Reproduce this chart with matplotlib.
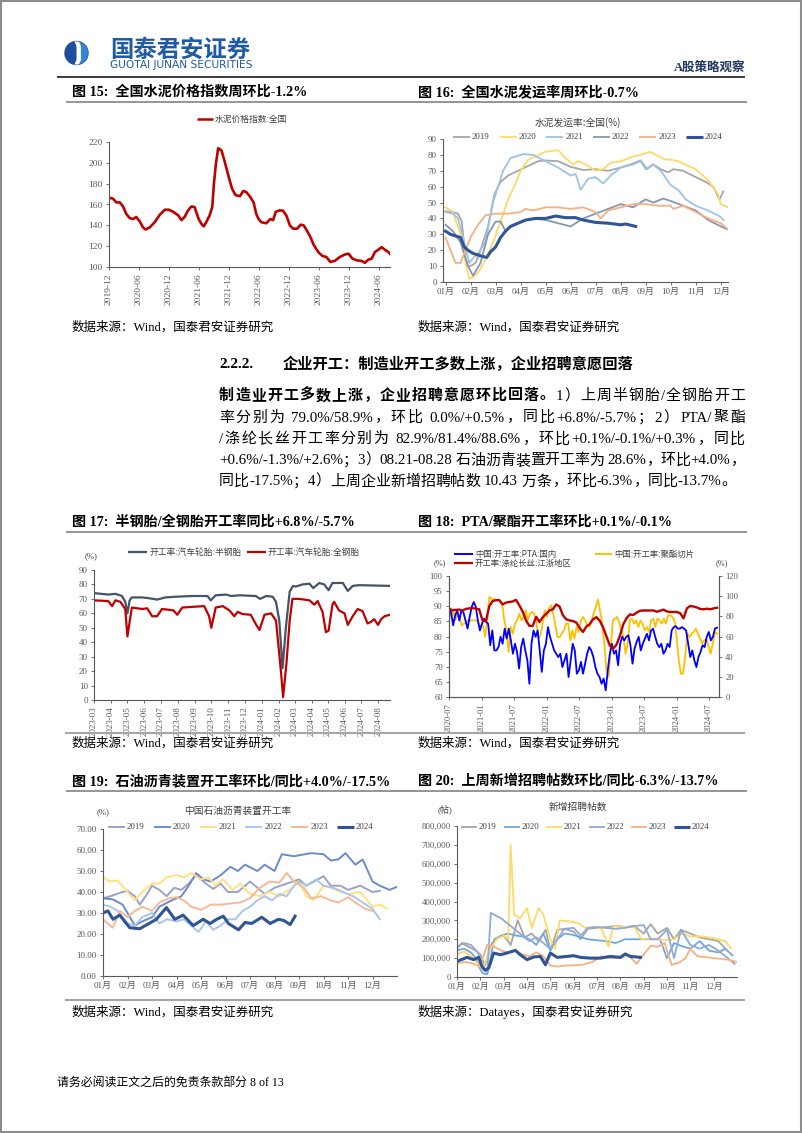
import re
import matplotlib
matplotlib.use('Agg')
import matplotlib.pyplot as plt
from matplotlib.patches import Circle, Polygon, Rectangle
from matplotlib.ticker import FuncFormatter, FormatStrFormatter
import pandas as pd

W, H = 802, 1133
SERIF = ['Liberation Serif', 'Noto Sans CJK SC']
SANS = ['Noto Sans CJK SC', 'DejaVu Sans']
plt.rcParams['font.family'] = SERIF
plt.rcParams['axes.unicode_minus'] = False

# ---------------- Fig 15: cement price index ----------------
cement_dates = ['2019-12-01','2019-12-25','2020-01-15','2020-02-05','2020-02-25','2020-03-15','2020-04-05',
    '2020-04-25','2020-05-15','2020-06-05','2020-06-25','2020-07-11','2020-08-05','2020-09-05','2020-10-05',
    '2020-11-05','2020-11-30','2020-12-26','2021-01-26','2021-02-15','2021-03-06','2021-03-26','2021-04-16',
    '2021-05-06','2021-05-31','2021-06-16','2021-07-01','2021-07-16','2021-08-06','2021-08-22','2021-09-01',
    '2021-09-13','2021-09-27','2021-10-17','2021-11-06','2021-12-01','2021-12-21','2022-01-11','2022-02-07',
    '2022-02-27','2022-03-17','2022-04-07','2022-05-01','2022-05-17','2022-06-01','2022-06-17','2022-07-17',
    '2022-08-11','2022-08-28','2022-09-13','2022-10-08','2022-10-28','2022-11-18','2022-12-08','2022-12-28',
    '2023-01-22','2023-02-12','2023-03-02','2023-03-22','2023-04-12','2023-05-02','2023-06-01','2023-06-25',
    '2023-07-19','2023-08-13','2023-09-09','2023-10-09','2023-11-09','2023-12-01','2023-12-25','2024-01-20',
    '2024-02-19','2024-03-10','2024-03-30','2024-04-20','2024-05-10','2024-05-31','2024-06-20','2024-07-10',
    '2024-07-31','2024-08-09']
cement_price = [166.6,165.6,162,162,158,151,147,146,148,144,138,136,138,143,150,155,155,153,
    149.6,145,148,154,158,157.6,146,141.6,139,143,149.6,157.6,180,199,214,212,201,186,175,
    169,168,173,172,168,162,151,146,143,142,146,145,153,154.4,154,149,140,136.8,
    136.8,140.6,140,135,129,121.4,114,110.6,109.6,104.8,106,109.6,112,112.8,108,
    106.4,105.8,104,107,108,114.4,116.6,119,116.6,114.4,112.8]
cement_ticks = ['2019-12','2020-06','2020-12','2021-06','2021-12','2022-06','2022-12','2023-06','2023-12','2024-06']

# ---------------- Fig 16: cement shipment rate (x = month of year) ----------------
ship_x_2019 = [1,1.3,1.5,1.65,1.8,1.9,2.0,2.2,2.4,2.7,2.95,3.2,3.5,3.9,4.3,4.7,5.0,5.5,6.0,6.5,7.0,7.5,8.0,8.4,8.8,9.05,9.3,9.6,9.9,10.1,10.5,11.0,11.4,11.7,11.95,12.1]
ship_2019 = [44.5,44,43,38,15,10,10,12,20,35,55,63,67,70,73,76,76.5,76,72.5,70.5,71,70,72,74,76.5,71,74,71,69,71,70,66,63,60,52,57]
ship_x_2020 = [1,1.3,1.6,1.8,1.95,2.1,2.3,2.6,2.9,3.2,3.5,3.8,4.0,4.3,4.7,5.0,5.5,5.8,6.1,6.3,6.6,7.0,7.3,7.6,8.0,8.5,8.8,9.2,9.4,9.8,10.0,10.3,10.7,11.0,11.5,11.9,12.0,12.3]
ship_2020 = [47,44,30,12,2,3,6,14,25,38,52,62,70,77,80,82,83,78,74,76,74,70,71,75,76,79,80,82,80,77,77,76,73,71,64,55,49,47]
ship_x_2021 = [1,1.3,1.5,1.75,1.95,2.1,2.3,2.6,2.9,3.1,3.3,3.6,4.1,4.5,5.0,5.5,6.0,6.2,6.4,6.7,7.0,7.3,7.6,8.0,8.5,8.8,9.0,9.3,9.6,10.0,10.3,10.6,11.0,11.5,12.0,12.1]
ship_2021 = [44,43,40,25,12,15,18,25,50,60,70,78,80.5,80,76,72,67,68,58,65,66,62,67,72,74,76,71,74,70,61,58,52,48,45,41,39]
ship_x_2022 = [1,1.3,1.6,1.9,2.1,2.4,2.7,3.0,3.2,3.4,3.7,4.0,4.5,5.0,5.5,6.0,6.5,7.0,7.5,8.0,8.5,9.0,9.3,9.7,10.0,10.5,11.0,11.5,12.0,12.3]
ship_2022 = [36,32,25,10,4,12,30,38,38,32,36,38,40,39,37,35,40,43,46,49,47,52,50,52.5,51,48,45,39,35,33]
ship_x_2023 = [1,1.2,1.4,1.6,1.8,2.0,2.3,2.6,3.0,3.5,4.0,4.2,4.5,5.0,5.5,6.0,6.5,7.0,7.2,7.5,8.0,8.5,9.0,9.5,10.0,10.1,10.5,11.0,11.5,12.0,12.3]
ship_2023 = [28,20,12,12,20,28,36,42,43,43,44,46,45,47,47,46,47,44,40,45,47,49,49,48,48,46,48,44,40,37,33]
ship_x_2024 = [1,1.2,1.4,1.6,1.75,1.9,2.1,2.3,2.5,2.65,2.8,3.0,3.2,3.4,3.6,3.9,4.2,4.6,5.0,5.4,5.8,6.2,6.5,7.0,7.5,8.0,8.2,8.6]
ship_2024 = [32,30,29,28,22,20,18,17,16,15.5,19,22,28,32,35,37,39,40,40,41.5,40.5,40.5,39,37.5,37,36,36.5,35]

month_labels = ['01月','02月','03月','04月','05月','06月','07月','08月','09月','10月','11月','12月']

# ---------------- Fig 17: tyre operating rate ----------------
semi_dates = ['2023-03-01','2023-03-27','2023-04-09','2023-04-21','2023-04-27','2023-05-01','2023-05-05','2023-05-09',
    '2023-05-28','2023-06-09','2023-06-24','2023-07-09','2023-07-28','2023-08-28','2023-09-24','2023-09-30','2023-10-09',
    '2023-10-28','2023-11-06','2023-11-21','2023-12-21','2023-12-29','2024-01-09','2024-01-21','2024-01-27','2024-02-02',
    '2024-02-08','2024-02-14','2024-02-21','2024-02-27','2024-03-03','2024-03-15','2024-03-28','2024-04-04','2024-04-15',
    '2024-04-24','2024-05-02','2024-05-09','2024-05-28','2024-06-06','2024-06-15','2024-06-27','2024-08-22']
semi_steel = [74,73,73.5,72,68,60,69,71,71,70.5,69.5,71,71.5,72,72,69,72.5,73,72,72.5,72,70,72,71.5,68,55,
    22,50,75,79,78.5,80,80.5,77.5,81,80,76,81,81,75.5,79,79.5,79]
full_dates = ['2023-03-01','2023-03-27','2023-04-03','2023-04-09','2023-04-18','2023-04-27','2023-05-01','2023-05-09',
    '2023-05-28','2023-06-06','2023-06-15','2023-06-24','2023-07-03','2023-07-15','2023-07-24','2023-07-31','2023-08-09',
    '2023-08-28','2023-09-18','2023-09-27','2023-10-01','2023-10-09','2023-10-22','2023-11-03','2023-11-12','2023-11-18',
    '2023-11-27','2023-12-12','2023-12-22','2023-12-28','2024-01-06','2024-01-18','2024-01-27','2024-02-05','2024-02-09',
    '2024-02-15','2024-02-21','2024-02-26','2024-03-09','2024-03-28','2024-04-06','2024-04-12','2024-04-21','2024-04-27',
    '2024-05-02','2024-05-09','2024-05-12','2024-05-21','2024-05-31','2024-06-06','2024-06-15','2024-06-24','2024-07-03',
    '2024-07-12','2024-07-18','2024-07-24','2024-07-31','2024-08-06','2024-08-12','2024-08-22']
full_steel = [69,68.5,65,69,68,63,44,64,63,63.5,58,58,63,62.5,62,59,64,64.5,65,58,50,64,65,62,58,61,
    59.5,59,52,48.5,59,60,55,20,2,25,55,70,70,69,66,68.5,61,47,48,66,68,62,60,52,58,63,61.5,53,54,56,52,56,58,59]
tyre_ticks = ['2023-03','2023-04','2023-05','2023-06','2023-07','2023-08','2023-09','2023-10','2023-11','2023-12',
    '2024-01','2024-02','2024-03','2024-04','2024-05','2024-06','2024-07','2024-08']

# ---------------- Fig 18: PTA / polyester (evenly spaced readings) ----------------
pta_rate = [89.8,88,83.7,87,88.6,85.3,88.6,88,85.3,82.6,86.4,89.8,91.4,89.8,85.3,82,84.2,85.9,84.8,84.2,
    77.1,82,75.4,75.4,76.5,79.9,77.6,82.6,79.3,82.6,78.7,74.3,77.6,74.9,69.4,76.5,79.3,75.4,72.1,64.4,
    77.6,82,79.9,82,75.4,68.3,75.4,77.6,83.1,79.9,77.6,75.4,74.3,73.2,74.3,69.9,72.1,74.3,66.6,72.1,
    77.6,75.4,67.7,68.8,71.6,67.7,71,74.3,76.5,75.4,73.2,69.9,67.7,66.6,64.4,66.1,62.2,68.8,74.3,77.6,
    74.3,75.4,70.5,77.6,79.9,78.7,79.9,80.4,77.1,71,76,78.2,79.9,75.4,77.6,79.3,80.9,78.7,82,82.6,
    79.9,77.6,76.5,77.6,74.3,75.4,77.6,76.5,82,83.1,83.4,82.6,82.6,83.1,82.6,82,77.6,73.2,75.4,72.1,
    69.9,73.2,74.9,77.1,76.5,79.9,81.5,78.7,79.9,82.6,82.9]
filament_rate = [89.2,88.7,88.8,88.9,88.6,89.1,89.3,89.4,89.2,89.0,85.3,85.0,90.0,91.7,92.0,92.0,90.6,91.2,91.4,91.6,
    92.1,90.3,88.2,85.3,83.5,83.5,86.5,84.8,86.4,87.5,88.6,89.0,90.6,89.9,87.0,85.7,85.3,85.1,84.6,82.8,
    81.5,83.3,84.1,85.7,86.4,85.2,83.0,80.0,77.0,76.0,77.3,80.2,84.0,86.1,87.3,87.1,87.9,88.5,88.6,88.6,
    88.6,88.6,88.2,88.5,88.9,88.3,88.1,88.1,88.1,87.7,86.0,89.3,90.1,89.9,89.6,89.1,89.0,89.2,89.0,89.3,89.5]
chip_rate = [87.6,79.3,86,76,82.6,77.7,71,72.7,74,76,76,76,76,76,73,69.4,71,59.5,76,99.2,97.5,97,96.5,96,95.9,92.6,
    76,66.1,44.6,69.4,62.8,72.7,76,82.6,76,79.3,86,76,82.6,84.3,82.6,76,57.9,61.2,72.7,86,79.3,87.6,90.9,82.6,
    71,59.5,59.5,62.8,66.1,72.7,72.7,56.2,66.1,57.9,69.4,64.5,76,79.3,76,71,69.4,76,82.6,89.3,96.5,86,72.7,52.9,
    26.4,19.8,46.3,76,77.7,79.3,74.4,66.1,59.5,43,52.9,76,77.7,72.7,76,69.4,76,72.7,66.1,69.4,64.5,76,77.7,69.4,
    77.7,76,72.7,77.7,72.7,81,81,79.3,76,59.5,36.4,23.1,23.1,39.7,62.8,59.5,62.8,64.5,67.8,62.8,57.9,52.9,56.2,
    57.9,49.6,43,52.9,64.5,62.8]
pta_start, pta_end = '2020-07-01', '2024-08-15'
pta_ticks = ['2020-07','2021-01','2021-07','2022-01','2022-07','2023-01','2023-07','2024-01','2024-07']

# ---------------- Fig 19: asphalt operating rate (x = month of year) ----------------
asp_x_2019 = [1,1.3,1.8,2.0,2.3,2.5,2.8,3.0,3.3,3.6,3.9,4.2,4.5,4.8,5.0,5.2,5.5,5.8,6.1,6.5,7.0,7.6,8.0,8.5,9.0,9.3,10.0,10.3,10.7,11.0,11.5,12.0,12.3]
asp_2019 = [37,38,40,40.5,38,34,39,43,41,38,42,41,44,48,46,44,41.5,44,40,40,45,39,42,44,46,43,47.5,43,43,41,43,40,40.5]
asp_x_2020 = [1,1.4,1.8,2.1,2.3,2.6,3.0,3.3,3.8,4.2,4.5,4.8,5.1,5.4,5.8,6.2,6.5,6.8,7.3,7.6,8.0,8.3,8.8,9.0,9.5,10.0,10.3,10.6,10.9,11.3,11.6,12.0,12.3,12.7,13.0]
asp_2020 = [37,36.5,34,28,24,26,28,33,36,38,43,49,46,45,48,52,50,53,50,53,50,58,57,57.5,58.5,58,55,55.5,58.5,53,55.5,45,43,41,42.5]
asp_x_2021 = [1,1.3,1.6,2.0,2.3,2.6,3.0,3.3,3.6,4.0,4.3,4.6,5.0,5.3,5.6,5.9,6.3,6.6,7.0,7.4,7.8,8.2,8.6,9.0,9.3,9.6,10.0,10.3,10.7,11.0,11.5,12.0,12.3,12.6]
asp_2021 = [47,45,45.5,40,36,40,44,44,47,48,47,49,46,47,43,46,41,44,39,38,40,38,41,45,38,36,43,42,40,39,40,33,34,32]
asp_x_2022 = [1,1.3,1.6,2.0,2.3,2.6,3.0,3.3,3.6,4.0,4.3,4.6,4.9,5.2,5.5,5.8,6.1,6.4,6.7,7.0,7.3,7.6,7.9,8.2,8.5,8.8,9.0,9.3,9.7,10.0,10.4,10.8,11.2,11.6,12.0,12.3]
asp_2022 = [34,33,31,25,24,28,30,25,27,26,27,24,21,26,22,24,27,27,31,33,36,38,36,39,38,43,45,43,46,43,42,40,38,35,32,27]
asp_x_2023 = [1,1.4,1.7,2.0,2.3,2.6,3.0,3.3,3.7,4.0,4.3,4.6,5.0,5.4,5.8,6.2,6.6,7.0,7.4,7.8,8.2,8.5,8.8,9.2,9.5,9.9,10.3,10.6,11.0,11.3,11.7,12.0]
asp_2023 = [27,23,31,28,31,33,31,35,37,37.5,36,33,31.5,34,34,34.5,35,37,42,45,44.5,49,45,42,37,38,36,35,37.5,35,32,31]
asp_x_2024 = [1.0,1.2,1.41,1.68,2.09,2.5,3.18,3.59,3.93,4.27,4.68,5.09,5.37,5.64,5.91,6.12,6.53,6.8,7.07,7.48,7.82,8.16,8.37,8.64,8.84]
asp_2024 = [30,31,27,29,23,22.5,27,32.6,27,29,24,27,25,27,28.5,25,22,25.5,25,28,25,27,26.5,24.5,28.5]

# ---------------- Fig 20: new job posts, thousand (x = month of year) ----------------
job_x_2019 = [1,1.2,1.5,1.8,2.0,2.2,2.5,2.8,3.0,3.3,3.6,3.9,4.2,4.5,4.8,5.0,5.3,5.6,6.0,6.3,6.6,7.0,7.4,7.8,8.2,8.6,9.0,9.3,9.6,10.0,10.3,10.6,11.0,11.4,11.8,12.2,12.5]
job_2019 = [150,180,160,140,120,60,180,210,220,170,300,210,230,190,250,140,250,255,240,200,255,260,265,270,265,270,230,280,230,260,200,250,230,210,200,190,150]
job_x_2020 = [1,1.3,1.6,1.8,2.0,2.1,2.3,2.6,2.9,3.2,3.5,3.8,4.1,4.4,4.7,5.0,5.3,5.6,5.9,6.2,6.6,7.0,7.4,7.8,8.2,8.6,9.0,9.4,9.7,10.0,10.3,10.6,11.0,11.4,11.8,12.2,12.5,12.8]
job_2020 = [140,150,130,100,40,20,15,200,220,230,220,215,200,170,230,140,200,230,225,215,200,195,190,180,200,200,200,200,200,100,180,165,150,190,140,130,150,115]
job_x_2021 = [1,1.3,1.6,1.9,2.1,2.4,2.7,3.0,3.2,3.3,3.45,3.7,4.0,4.2,4.5,4.7,5.0,5.2,5.4,5.8,6.2,6.5,6.9,7.2,7.5,7.7,8.2,8.6,8.9,9.3,9.7,10.0,10.3,10.6,11.0,11.5,12.0,12.5,12.75]
job_2021 = [120,135,110,70,40,140,200,220,200,700,330,310,365,260,365,330,200,150,300,295,285,260,265,255,160,270,265,265,200,205,200,195,200,230,215,215,205,190,150]
job_x_2022 = [1,1.3,1.6,1.9,2.1,2.3,2.45,2.6,2.9,3.2,3.5,3.8,4.1,4.4,4.7,5.0,5.3,5.6,6.0,6.3,6.6,7.0,7.4,7.8,8.2,8.6,9.0,9.3,9.6,10.0,10.3,10.6,11.0,11.4,11.8,12.2,12.6,12.9]
job_2022 = [160,180,170,130,50,30,340,330,310,280,250,220,190,210,180,150,200,255,260,220,260,265,260,255,260,270,275,200,200,250,100,250,170,150,170,140,100,70]
job_x_2023 = [1,1.3,1.6,1.9,2.1,2.3,2.6,2.9,3.2,3.5,3.8,4.1,4.4,4.7,5.0,5.3,5.6,6.0,6.4,6.8,7.2,7.6,8.0,8.3,8.7,9.0,9.3,9.6,9.9,10.2,10.5,10.8,11.0,11.3,11.7,12.0,12.4,12.7,13.0]
job_2023 = [70,80,75,60,100,170,160,140,130,140,120,110,130,110,60,55,60,62,65,80,110,100,100,120,70,120,165,160,180,65,75,100,150,110,105,100,95,90,80]
job_x_2024 = [1.0,1.43,1.71,1.93,2.07,2.21,2.36,2.57,2.86,3.14,3.5,3.71,4.0,4.29,4.57,4.79,5.0,5.29,5.71,6.0,6.29,6.71,7.14,7.57,8.0,8.21,8.43,8.86]
job_2024 = [83,104,92,104,56,35,48,127,118,127,141,118,92,106,109,65,127,104,109,113,104,100,100,109,104,122,109,104]

years = ['2019', '2020', '2021', '2022', '2023', '2024']

# ======================================================================
fig = plt.figure(figsize=(W / 100, H / 100), dpi=100, facecolor='white')


def rect(l, t, r, b):
    return [l / W, 1 - b / H, (r - l) / W, (b - t) / H]


TICKC = '#595959'
SPINE = '#595959'


def style(ax, fs=6.5, right=False):
    ax.set_facecolor('none')
    ax.spines['top'].set_visible(False)
    ax.spines['right'].set_visible(right)
    for s in ('left', 'bottom', 'right'):
        ax.spines[s].set_color(SPINE)
        ax.spines[s].set_linewidth(0.8)
    ax.tick_params(labelsize=fs, colors=SPINE, labelcolor=TICKC, length=2.5, width=0.6, pad=2)


# ---- Fig 15
ax = fig.add_axes(rect(109, 142, 390, 267))
style(ax, 6.8)
ax.plot(pd.to_datetime(cement_dates), cement_price, color='#c00000', lw=1.9)
ax.set_ylim(100, 220)
ax.set_yticks(range(100, 221, 20))
ax.set_xlim(pd.Timestamp('2019-12-01'), pd.Timestamp('2024-08-10'))
ax.set_xticks(pd.to_datetime(cement_ticks))
ax.set_xticklabels(cement_ticks, rotation=90)

# ---- Fig 16
c16 = ['#a6a6a6', '#ffd966', '#9dc3e6', '#8497b0', '#f4b183', '#2f5597']
ax = fig.add_axes(rect(443, 139, 728, 282))
style(ax, 6.5)
for xs, ys, c in zip([ship_x_2019, ship_x_2020, ship_x_2021, ship_x_2022, ship_x_2023, ship_x_2024],
                     [ship_2019, ship_2020, ship_2021, ship_2022, ship_2023, ship_2024], c16):
    ax.plot(xs, ys, color=c, lw=2.2 if c == '#2f5597' else 1.3)
ax.set_xlim(0.9, 12.29)
ax.set_ylim(0, 90)
ax.set_yticks(range(0, 91, 10))
ax.set_xticks(range(1, 13))
ax.set_xticklabels(month_labels)

# ---- Fig 17
ax = fig.add_axes(rect(94, 570, 390, 700))
style(ax, 6.5)
ax.plot(pd.to_datetime(semi_dates), semi_steel, color='#44546a', lw=1.6)
ax.plot(pd.to_datetime(full_dates), full_steel, color='#c00000', lw=1.6)
ax.set_ylim(0, 90)
ax.set_yticks(range(0, 91, 10))
ax.set_xlim(pd.Timestamp('2023-03-01'), pd.Timestamp('2024-08-22'))
ax.set_xticks(pd.to_datetime(tyre_ticks))
ax.set_xticklabels(tyre_ticks, rotation=90)

# ---- Fig 18
ax = fig.add_axes(rect(449, 576, 719, 697))
ax2 = ax.twinx()
style(ax, 6.2, right=True)
style(ax2, 6.2, right=True)
ax.set_zorder(ax2.get_zorder() + 1)
ax.plot(pd.date_range(pta_start, pta_end, periods=len(pta_rate)), pta_rate, color='#0000ff', lw=1.3)
ax2.plot(pd.date_range(pta_start, pta_end, periods=len(chip_rate)), chip_rate, color='#ffc000', lw=1.3)
ax.plot(pd.date_range(pta_start, pta_end, periods=len(filament_rate)), filament_rate, color='#c00000', lw=1.7)
ax.set_ylim(60, 100)
ax.set_yticks(range(60, 101, 5))
ax2.set_ylim(0, 120)
ax2.set_yticks(range(0, 121, 20))
ax.set_xlim(pd.Timestamp('2020-07-01'), pd.Timestamp('2024-08-26'))
ax.set_xticks(pd.to_datetime(pta_ticks))
ax.set_xticklabels(pta_ticks, rotation=90)

# ---- Fig 19
c19 = ['#9aa3c7', '#6c8bcb', '#ffe083', '#a9c6ea', '#f6b995', '#2f5597']
ax = fig.add_axes(rect(103, 829, 397, 976))
style(ax, 6.5)
for xs, ys, c in zip([asp_x_2019, asp_x_2020, asp_x_2021, asp_x_2022, asp_x_2023, asp_x_2024],
                     [asp_2019, asp_2020, asp_2021, asp_2022, asp_2023, asp_2024], c19):
    ax.plot(xs, ys, color=c, lw=2.2 if c == '#2f5597' else 1.4)
ax.set_xlim(1, 13)
ax.set_ylim(0, 70)
ax.set_yticks(range(0, 71, 10))
ax.yaxis.set_major_formatter(FormatStrFormatter('%.2f'))
ax.set_xticks(range(1, 13))
ax.set_xticklabels(month_labels)

# ---- Fig 20
c20 = ['#a6a6a6', '#6fa8dc', '#ffd966', '#8faadc', '#f4b183', '#2f5597']
ax = fig.add_axes(rect(457, 826, 737, 977))
style(ax, 6.3)
for xs, ys, c in zip([job_x_2019, job_x_2020, job_x_2021, job_x_2022, job_x_2023, job_x_2024],
                     [job_2019, job_2020, job_2021, job_2022, job_2023, job_2024], c20):
    ax.plot(xs, ys, color=c, lw=2.2 if c == '#2f5597' else 1.3)
ax.set_xlim(1, 13)
ax.set_ylim(0, 800)
ax.set_yticks(range(0, 801, 100))
ax.yaxis.set_major_formatter(FuncFormatter(lambda v, p: f'{int(round(v * 1000)):,}'))
ax.set_xticks(range(1, 13))
ax.set_xticklabels(month_labels)

# ======================================================================
ov = fig.add_axes([0, 0, 1, 1], zorder=20)
ov.set_xlim(0, W)
ov.set_ylim(H, 0)
ov.set_autoscale_on(False)
ov.axis('off')
renderer = fig.canvas.get_renderer()


def T(x, y, s, size=9, bold=False, color='black', family=SERIF, ha='left', va='center', **kw):
    return ov.text(x, y, s, fontsize=size, fontweight='bold' if bold else 'normal', color=color,
                   family=family, ha=ha, va=va, **kw)


def width_of(s, size, bold=False, family=SERIF):
    t = T(0, 0, s, size=size, bold=bold, family=family)
    w = t.get_window_extent(renderer).width
    t.remove()
    return w


def HL(x0, x1, y, color='black', lw=1.0):
    ov.plot([x0, x1], [y, y], color=color, lw=lw, solid_capstyle='butt')


def LEG(x, y, color, lw, label, length=17, size=6.3, family=SERIF):
    ov.plot([x, x + length], [y, y], color=color, lw=lw, solid_capstyle='butt')
    T(x + length + 2, y, label, size=size, color='#404040', family=family)


def justify(x0, x1, y, segments, size, stretch=True):
    toks = []
    for s, bold in segments:
        for tk in re.findall(r'[\x21-\x7e]+|[^\x00-\x7f]| ', s):
            if tk == ' ':
                toks.append((None, bold, 0.25 * size * 100 / 72))
            else:
                toks.append((tk, bold, width_of(tk, size, bold)))
    total = sum(w for _, _, w in toks)
    gap = (x1 - x0 - total) / (len(toks) - 1) if stretch else 0.0
    x = x0
    for tk, bold, w in toks:
        if tk is not None:
            T(x, y, tk, size=size, bold=bold)
        x += w + gap


# page frame
ov.add_patch(Rectangle((0.8, 0.8), W - 1.6, H - 1.6, fill=False, edgecolor='#8c8c8c', lw=1.5))

# header logo + names
circ = Circle((76.5, 53), 11.5, color='#1d4f9c')
ov.add_patch(circ)
light = Rectangle((77.5, 40), 13, 26, color='#3784d4')
ov.add_patch(light)
light.set_clip_path(circ)
band = Polygon([(74.5, 40), (77.5, 40), (80.2, 46), (80.2, 60), (77.5, 66), (74.5, 66), (77.2, 60), (77.2, 46)],
               color='white')
ov.add_patch(band)
band.set_clip_path(circ)
T(110, 57, '国泰君安证券', size=16.8, bold=True, color='#1f5aa6', family=SANS, va='baseline')
gw = width_of('GUOTAI JUNAN SECURITIES', 10, family=['DejaVu Sans'])
T(110, 68.5, 'GUOTAI JUNAN SECURITIES', size=10 * 143 / gw, color='#1f5aa6', family=['DejaVu Sans'],
  va='baseline')
T(745, 68, 'A股策略观察', size=9, bold=True, color='#1f3864', ha='right')
HL(57, 745, 77, '#1a1a1a', 1.2)

# row 1 titles
T(72, 92, '图 15:  全国水泥价格指数周环比-1.2%', size=10.2, bold=True)
T(418, 92, '图 16:  全国水泥发运率周环比-0.7%', size=10.2, bold=True)
HL(66, 747, 102, '#8c8c8c', 1.3)
LEG(197, 119, '#c00000', 1.8, '水泥价格指数:全国', length=16, size=6.3, family=SANS)
T(578, 123, '水泥发运率:全国(%)', size=7, color='#404040', family=SANS, ha='center')
for i, (yr, c) in enumerate(zip(years, c16)):
    LEG(453 + i * 46.6, 137, c, 2.2 if yr == '2024' else 1.3, yr, length=17)
T(72, 327, '数据来源：Wind，国泰君安证券研究', size=9)
T(418, 327, '数据来源：Wind，国泰君安证券研究', size=9)

# section text
T(219, 364, '2.2.2.', size=11, bold=True)
T(283, 364, '企业开工：制造业开工多数上涨，企业招聘意愿回落', size=11, bold=True)
PS = 10.8
justify(219, 745, 396, [('制造业开工多数上涨，企业招聘意愿环比回落。', True), ('1）上周半钢胎/全钢胎开工', False)], PS)
para = ['率分别为 79.0%/58.9%，环比 0.0%/+0.5%，同比+6.8%/-5.7%；2）PTA/聚酯',
        '/涤纶长丝开工率分别为 82.9%/81.4%/88.6%，环比+0.1%/-0.1%/+0.3%，同比',
        '+0.6%/-1.3%/+2.6%；3）08.21-08.28 石油沥青装置开工率为 28.6%，环比+4.0%，',
        '同比-17.5%；4）上周企业新增招聘帖数 10.43 万条，环比-6.3%，同比-13.7%。']
for i, line in enumerate(para):
    justify(219, 745, 418 + i * 21.3, [(line, False)], PS, stretch=(i < len(para) - 1))

# row 2
T(72, 522, '图 17:  半钢胎/全钢胎开工率同比+6.8%/-5.7%', size=10.2, bold=True)
T(418, 522, '图 18:  PTA/聚酯开工率环比+0.1%/-0.1%', size=10.2, bold=True)
HL(66, 747, 532, '#8c8c8c', 1.3)
T(85, 556, '(%)', size=6.3, color='#404040')
LEG(128, 552, '#44546a', 1.6, '开工率:汽车轮胎:半钢胎', length=19, size=6.3, family=SANS)
LEG(247, 552, '#c00000', 1.6, '开工率:汽车轮胎:全钢胎', length=19, size=6.3, family=SANS)
LEG(454, 554, '#0000ff', 1.4, '中国:开工率:PTA:国内', length=19, size=6.0, family=SANS)
LEG(595, 554, '#ffc000', 1.4, '中国:开工率:聚酯切片', length=17, size=6.0, family=SANS)
LEG(454, 563, '#c00000', 1.6, '开工率:涤纶长丝:江浙地区', length=19, size=6.0, family=SANS)
T(434, 563, '(%)', size=6.0, color='#404040')
T(716, 563, '(%)', size=6.0, color='#404040')
HL(65, 745, 733, '#a6a6a6', 1.5)
T(72, 743, '数据来源：Wind，国泰君安证券研究', size=9)
T(418, 743, '数据来源：Wind，国泰君安证券研究', size=9)

# row 3
T(72, 781, '图 19:  石油沥青装置开工率环比/同比+4.0%/-17.5%', size=10.2, bold=True)
T(418, 781, '图 20:  上周新增招聘帖数环比/同比-6.3%/-13.7%', size=10.2, bold=True)
HL(66, 747, 791, '#8c8c8c', 1.3)
T(238, 811, '中国石油沥青装置开工率', size=7, color='#404040', family=SANS, ha='center')
T(97, 812, '(%)', size=6.3, color='#404040')
for i, (yr, c) in enumerate(zip(years, c19)):
    LEG(108 + i * 45.8, 827, c, 2.2 if yr == '2024' else 1.4, yr, length=17)
T(578, 807, '新增招聘帖数', size=7, color='#404040', family=SANS, ha='center')
T(438, 809, '(帖)', size=6.5, color='#404040', family=SERIF)
for i, (yr, c) in enumerate(zip(years, c20)):
    LEG(461 + i * 42.5, 827, c, 2.2 if yr == '2024' else 1.3, yr, length=16)
HL(65, 745, 1000, '#a6a6a6', 1.5)
T(72, 1012, '数据来源：Wind，国泰君安证券研究', size=9)
T(418, 1012, '数据来源：Datayes，国泰君安证券研究', size=9)

# footer
T(57, 1083, '请务必阅读正文之后的免责条款部分 8 of 13', size=8.6)

fig.savefig('out.png', dpi=100, facecolor='white')
